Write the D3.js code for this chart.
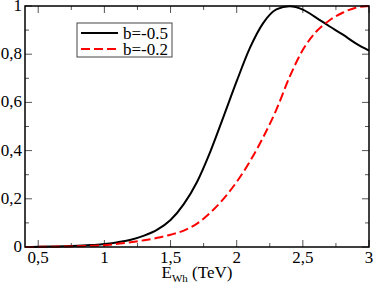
<!DOCTYPE html>
<html>
<head>
<meta charset="utf-8">
<script src="https://cdn.jsdelivr.net/npm/d3@7"></script>
</head>
<body style="margin:0">
<div id="chart"></div>
<script>
// energia (TeV) i valors de cada corba
const energies = [0.4, 0.5, 0.6, 0.7, 0.8, 0.9, 1.0, 1.1, 1.2, 1.3, 1.4, 1.5, 1.6, 1.7, 1.8, 1.9, 2.0, 2.1, 2.2, 2.3, 2.4, 2.5, 2.6, 2.7, 2.8, 2.9, 3.0];
const seriesB05 = [0, 0.001, 0.002, 0.003, 0.005, 0.008, 0.012, 0.02, 0.03, 0.047, 0.072, 0.112, 0.178, 0.27, 0.395, 0.54, 0.688, 0.826, 0.929, 0.986, 0.999, 0.985, 0.952, 0.916, 0.882, 0.845, 0.815];
const seriesB02 = [0, 0.0005, 0.001, 0.002, 0.003, 0.005, 0.007, 0.013, 0.02, 0.028, 0.038, 0.051, 0.068, 0.097, 0.142, 0.2, 0.27, 0.355, 0.455, 0.57, 0.706, 0.818, 0.893, 0.94, 0.972, 0.993, 1.0];
const legendLabels = ['b=-0.5', 'b=-0.2'];
const xTicks = [0.5, 1, 1.5, 2, 2.5, 3];
const yTicks = [0, 0.2, 0.4, 0.6, 0.8, 1];

const W = 374, H = 287;
const margin = { top: 6, right: 5, bottom: 40, left: 25 };
const width = W - margin.left - margin.right;
const height = H - margin.top - margin.bottom;

const svg = d3.select('#chart').append('svg')
    .attr('width', W)
    .attr('height', H)
    .style('font-family', '"Liberation Serif"')
    .style('font-size', '17px');
const g = svg.append('g').attr('transform', `translate(${margin.left},${margin.top})`);

const x = d3.scaleLinear().domain([0.4, 3]).range([0, width]);
const y = d3.scaleLinear().domain([0, 1]).range([height, 0]);

const fmt = d => d3.format('~g')(d).replace('.', ',');

// ticks cap a dins, als quatre costats
const xMinor = d3.range(0.75, 3, 0.5);
const yMinor = d3.range(0.1, 1, 0.2);
function tickLines(sel, vals, len, horiz, pos) {
    vals.forEach(v => {
        if (horiz) {
            sel.append('line').attr('x1', x(v)).attr('x2', x(v))
                .attr('y1', pos).attr('y2', pos === 0 ? len : pos - len);
        } else {
            sel.append('line').attr('y1', y(v)).attr('y2', y(v))
                .attr('x1', pos).attr('x2', pos === 0 ? len : pos - len);
        }
    });
}
const ticks = g.append('g').attr('stroke', '#555').attr('stroke-width', 1);
tickLines(ticks, xTicks, 7, true, height);
tickLines(ticks, xTicks, 7, true, 0);
tickLines(ticks, xMinor, 4, true, height);
tickLines(ticks, xMinor, 4, true, 0);
tickLines(ticks, yTicks, 7, false, 0);
tickLines(ticks, yTicks, 7, false, width);
tickLines(ticks, yMinor, 4, false, 0);
tickLines(ticks, yMinor, 4, false, width);

g.append('g').selectAll('text').data(xTicks).enter().append('text')
    .attr('x', d => x(d)).attr('y', height + 16)
    .attr('text-anchor', 'middle')
    .text(fmt);
g.append('g').selectAll('text').data(yTicks).enter().append('text')
    .attr('x', -3).attr('y', d => y(d) + 5)
    .attr('text-anchor', 'end')
    .text(fmt);

const line = d3.line().x(d => x(d[0])).y(d => y(d[1])).curve(d3.curveMonotoneX);
g.append('path').datum(energies.map((e, i) => [e, seriesB05[i]]))
    .attr('d', line).attr('fill', 'none').attr('stroke', '#000').attr('stroke-width', 2);
g.append('path').datum(energies.map((e, i) => [e, seriesB02[i]]))
    .attr('d', line).attr('fill', 'none').attr('stroke', '#ff0000').attr('stroke-width', 2)
    .attr('stroke-dasharray', '9,4');

g.append('rect').attr('width', width).attr('height', height)
    .attr('fill', 'none').attr('stroke', '#000').attr('stroke-width', 1.5);

// llegenda
const leg = svg.append('g').attr('transform', 'translate(77,23)');
leg.append('rect').attr('width', 95).attr('height', 34)
    .attr('fill', '#fff').attr('stroke', '#444').attr('stroke-width', 1);
const legStyles = [{ c: '#000', dash: null }, { c: '#ff0000', dash: '9,4' }];
legendLabels.forEach((lab, i) => {
    const yy = 10 + i * 16;
    leg.append('line').attr('x1', 4).attr('x2', 41).attr('y1', yy).attr('y2', yy)
        .attr('stroke', legStyles[i].c).attr('stroke-width', 2)
        .attr('stroke-dasharray', legStyles[i].dash);
    leg.append('text').attr('x', 46).attr('y', yy + 6).text(lab);
});

// títol eix x
const xt = svg.append('text').attr('x', 197).attr('y', 278)
    .attr('text-anchor', 'middle');
xt.append('tspan').text('E');
xt.append('tspan').style('font-size', '11px').attr('dy', 4).text('Wh');
xt.append('tspan').attr('dy', -4).text(' (TeV)');
</script>
</body>
</html>
